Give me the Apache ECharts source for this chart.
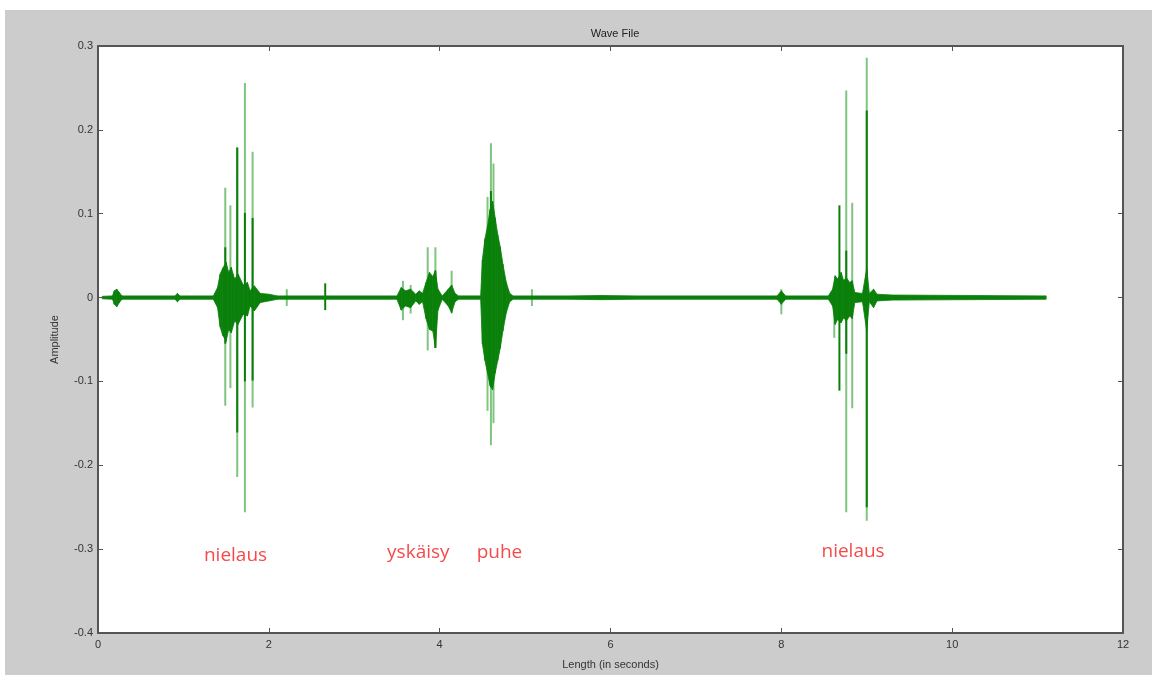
<!DOCTYPE html>
<html><head><meta charset="utf-8">
<script src="https://cdn.jsdelivr.net/npm/echarts@6/dist/echarts.min.js"></script>
<style>
html,body{margin:0;padding:0;background:#fff;}
#bg{position:absolute;left:5px;top:10px;width:1147px;height:665px;background:#cccccc;}
#main{position:absolute;left:0;top:0;width:1152px;height:675px;}
</style></head>
<body><div id="bg"></div><div id="main"></div>
<script>
// Axis ticks
const xTicks = [0, 2, 4, 6, 8, 10, 12];
const yTicks = [-0.4, -0.3, -0.2, -0.1, 0, 0.1, 0.2, 0.3];

// Envelope of the dense waveform (time s, upper amplitude, lower amplitude)
const envT  = [0.05, 0.17, 0.19, 0.22, 0.25, 0.28, 0.90, 0.93, 0.96, 1.35, 1.40, 1.43, 1.46, 1.50, 1.53, 1.56, 1.60, 1.64, 1.70, 1.75, 1.78, 1.83, 1.90, 2.00, 2.10,
               3.50, 3.55, 3.60, 3.66, 3.72, 3.76, 3.80, 3.84, 3.88, 3.92, 3.95, 3.98, 4.03, 4.10, 4.14, 4.18, 4.22,
               4.48, 4.50, 4.53, 4.56, 4.59, 4.62, 4.65, 4.68, 4.71, 4.74, 4.78, 4.82, 4.86, 5.50, 5.90, 6.30,
               7.95, 8.00, 8.05, 8.55, 8.60, 8.63, 8.66, 8.70, 8.73, 8.76, 8.80, 8.83, 8.86, 8.95, 9.00, 9.03, 9.08, 9.12, 9.30, 11.08, 11.10];
const envHi = [0.0015, 0.002, 0.008, 0.010, 0.006, 0.002, 0.002, 0.005, 0.002, 0.002, 0.012, 0.028, 0.035, 0.042, 0.030, 0.036, 0.022, 0.028, 0.015, 0.018, 0.008, 0.014, 0.005, 0.004, 0.002,
               0.002, 0.012, 0.008, 0.010, 0.004, 0.008, 0.005, 0.018, 0.030, 0.025, 0.032, 0.010, 0.002, 0.010, 0.015, 0.005, 0.002,
               0.002, 0.045, 0.070, 0.085, 0.105, 0.115, 0.095, 0.075, 0.060, 0.040, 0.018, 0.005, 0.002, 0.002, 0.0025, 0.002,
               0.002, 0.008, 0.002, 0.002, 0.010, 0.026, 0.022, 0.030, 0.020, 0.024, 0.018, 0.020, 0.006, 0.005, 0.035, 0.005, 0.010, 0.004, 0.003, 0.002, 0.002];
const envLo = [-0.0015, -0.002, -0.008, -0.011, -0.006, -0.002, -0.002, -0.005, -0.002, -0.002, -0.012, -0.035, -0.045, -0.052, -0.038, -0.042, -0.028, -0.032, -0.020, -0.022, -0.010, -0.016, -0.006, -0.004, -0.002,
               -0.002, -0.015, -0.010, -0.012, -0.004, -0.008, -0.005, -0.025, -0.038, -0.040, -0.060, -0.015, -0.002, -0.010, -0.018, -0.005, -0.002,
               -0.002, -0.055, -0.075, -0.090, -0.105, -0.110, -0.090, -0.075, -0.060, -0.040, -0.018, -0.005, -0.002, -0.002, -0.0025, -0.002,
               -0.002, -0.008, -0.002, -0.002, -0.010, -0.032, -0.026, -0.030, -0.024, -0.028, -0.022, -0.025, -0.006, -0.005, -0.040, -0.005, -0.012, -0.004, -0.003, -0.002, -0.002];

// Strong (dark) single spikes
const darkT  = [1.49, 1.63, 1.72, 1.81, 2.66, 3.95, 4.60, 8.68, 8.76, 9.00];
const darkHi = [0.060, 0.179, 0.101, 0.095, 0.017, 0.032, 0.127, 0.110, 0.056, 0.223];
const darkLo = [-0.055, -0.161, -0.100, -0.099, -0.015, -0.060, -0.107, -0.111, -0.067, -0.250];

// Faint (light) single spikes
const lightT  = [1.49, 1.55, 1.63, 1.72, 1.81, 2.21, 3.57, 3.66, 3.86, 3.95, 4.14, 4.56, 4.60, 4.63, 5.08, 8.00, 8.62, 8.76, 8.83, 9.00];
const lightHi = [0.131, 0.110, 0.179, 0.256, 0.174, 0.010, 0.020, 0.015, 0.060, 0.060, 0.032, 0.120, 0.184, 0.160, 0.010, 0.010, 0.010, 0.247, 0.113, 0.286];
const lightLo = [-0.129, -0.108, -0.214, -0.256, -0.131, -0.010, -0.027, -0.019, -0.063, -0.060, -0.019, -0.135, -0.176, -0.150, -0.010, -0.020, -0.048, -0.256, -0.132, -0.266];

// Annotations (label, time s, amplitude)
const noteText = ['nielaus', 'yskäisy', 'puhe', 'nielaus'];
const noteT    = [1.61, 3.75, 4.70, 8.84];
const noteA    = [-0.308, -0.304, -0.304, -0.303];

const chart = echarts.init(document.getElementById('main'), null, {renderer: 'canvas'});

function envItem(params, api) {
  const i = params.dataIndex;
  if (i >= envT.length - 1) return null;
  const p1 = api.coord([envT[i], envHi[i]]);
  const p2 = api.coord([envT[i + 1], envHi[i + 1]]);
  const p3 = api.coord([envT[i + 1], envLo[i + 1]]);
  const p4 = api.coord([envT[i], envLo[i]]);
  return {type: 'polygon', shape: {points: [p1, p2, p3, p4]},
          style: {fill: '#0a800a', stroke: '#0a800a', lineWidth: 0.8}};
}
function spikeItem(color, width) {
  return function (params, api) {
    const a = api.coord([api.value(0), api.value(1)]);
    const b = api.coord([api.value(0), api.value(2)]);
    return {type: 'line', shape: {x1: a[0], y1: a[1], x2: b[0], y2: b[1]},
            style: {stroke: color, lineWidth: width}};
  };
}

const axisColor = '#555555';
const labelStyle = {color: '#333', fontFamily: 'Liberation Sans, Arial', fontSize: 11};
const lineCfg = {onZero: false, lineStyle: {color: axisColor, width: 2}};
const tickCfg = {inside: true, length: 5, lineStyle: {color: axisColor}};

chart.setOption({
  animation: false,
  backgroundColor: 'transparent',
  title: {text: 'Wave File', left: 610, top: 23, textAlign: 'center',
          textStyle: {fontFamily: 'Liberation Sans, Arial', fontSize: 11, fontWeight: 'normal', color: '#222'}},
  grid: {left: 98, top: 46, right: 29, bottom: 42, show: true, backgroundColor: '#ffffff', borderWidth: 0},
  xAxis: [
    {type: 'value', min: xTicks[0], max: xTicks[xTicks.length - 1], interval: 2, position: 'bottom',
     axisLine: lineCfg, axisTick: tickCfg,
     axisLabel: Object.assign({margin: 6}, labelStyle), splitLine: {show: false},
     name: 'Length (in seconds)', nameLocation: 'middle', nameGap: 26,
     nameTextStyle: {fontFamily: 'Liberation Sans, Arial', fontSize: 11, color: '#333'}},
    {type: 'value', min: xTicks[0], max: xTicks[xTicks.length - 1], interval: 2, position: 'top',
     axisLine: lineCfg, axisTick: tickCfg,
     axisLabel: {show: false}, splitLine: {show: false}}
  ],
  yAxis: [
    {type: 'value', min: yTicks[0], max: yTicks[yTicks.length - 1], interval: 0.1, position: 'left',
     axisLine: lineCfg, axisTick: tickCfg,
     axisLabel: Object.assign({margin: 5, formatter: v => {const r = Math.round(v * 10) / 10; return r === 0 ? '0' : String(r);}}, labelStyle),
     splitLine: {show: false},
     name: 'Amplitude', nameLocation: 'middle', nameGap: 38, nameRotate: 90,
     nameTextStyle: {fontFamily: 'Liberation Sans, Arial', fontSize: 11, color: '#333'}},
    {type: 'value', min: yTicks[0], max: yTicks[yTicks.length - 1], interval: 0.1, position: 'right',
     axisLine: lineCfg, axisTick: tickCfg,
     axisLabel: {show: false}, splitLine: {show: false}}
  ],
  series: [
    {type: 'custom', name: 'light', renderItem: spikeItem('#7fc47f', 2), clip: true, z: 2,
     data: lightT.map((t, i) => [t, lightHi[i], lightLo[i]])},
    {type: 'custom', name: 'envelope', renderItem: envItem, clip: true, z: 3,
     data: envT.map((t, i) => [t, envHi[i], envLo[i]])},
    {type: 'custom', name: 'dark', renderItem: spikeItem('#0a800a', 2), clip: true, z: 4,
     data: darkT.map((t, i) => [t, darkHi[i], darkLo[i]])},
    {type: 'scatter', name: 'notes', symbolSize: 0, z: 5,
     data: noteT.map((t, i) => ({value: [t, noteA[i]], label: {show: true, formatter: noteText[i]}})),
     label: {position: 'inside', color: '#f21c1c', fontSize: 19, fontFamily: 'Open Sans, Noto Sans, sans-serif'}}
  ]
});
</script></body></html>
